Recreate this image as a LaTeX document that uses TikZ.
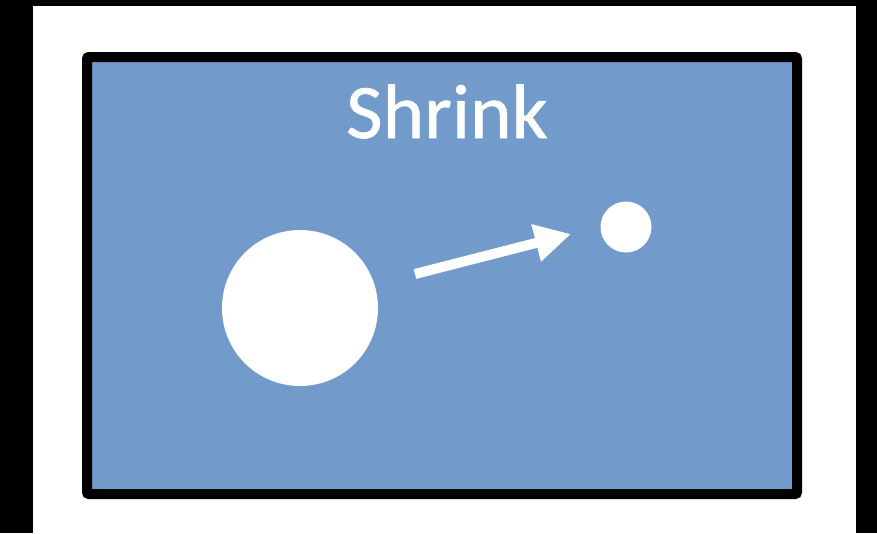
\documentclass[tikz,border=0pt]{standalone}
\usepackage{fontspec}
\setmainfont{Carlito}
\newfontfamily\titlefont[FakeBold=0.8,FakeStretch=1.03]{Carlito}
\usetikzlibrary{arrows.meta}
\definecolor{panelblue}{RGB}{114,155,203}
\begin{document}
\begin{tikzpicture}[x=1pt,y=-1pt,
  framebox/.style={draw=black,line width=10pt,fill=panelblue,rounded corners=2pt},
  dot/.style={circle,fill=white,inner sep=0pt}]
\useasboundingbox (0,0) rectangle (877,533);
\fill[black] (0,0) rectangle (877,533);
\fill[white] (33,6) rectangle (856,533);
\draw[framebox] (87,57) rectangle (797,494);
\node[text=white,font=\titlefont\fontsize{77}{80}\selectfont,anchor=base,inner sep=0pt] (title) at (447,138) {Shrink};
\node[dot,minimum size=156pt] (big) at (300,308) {};
\node[dot,minimum size=51pt] (small) at (626,227) {};
\coordinate (tail) at (415,274);
\coordinate (tip) at (571,234);
\draw[white,line width=10pt,-{Triangle[length=36pt,width=36pt]}] (tail) -- (tip);
\end{tikzpicture}
\end{document}
